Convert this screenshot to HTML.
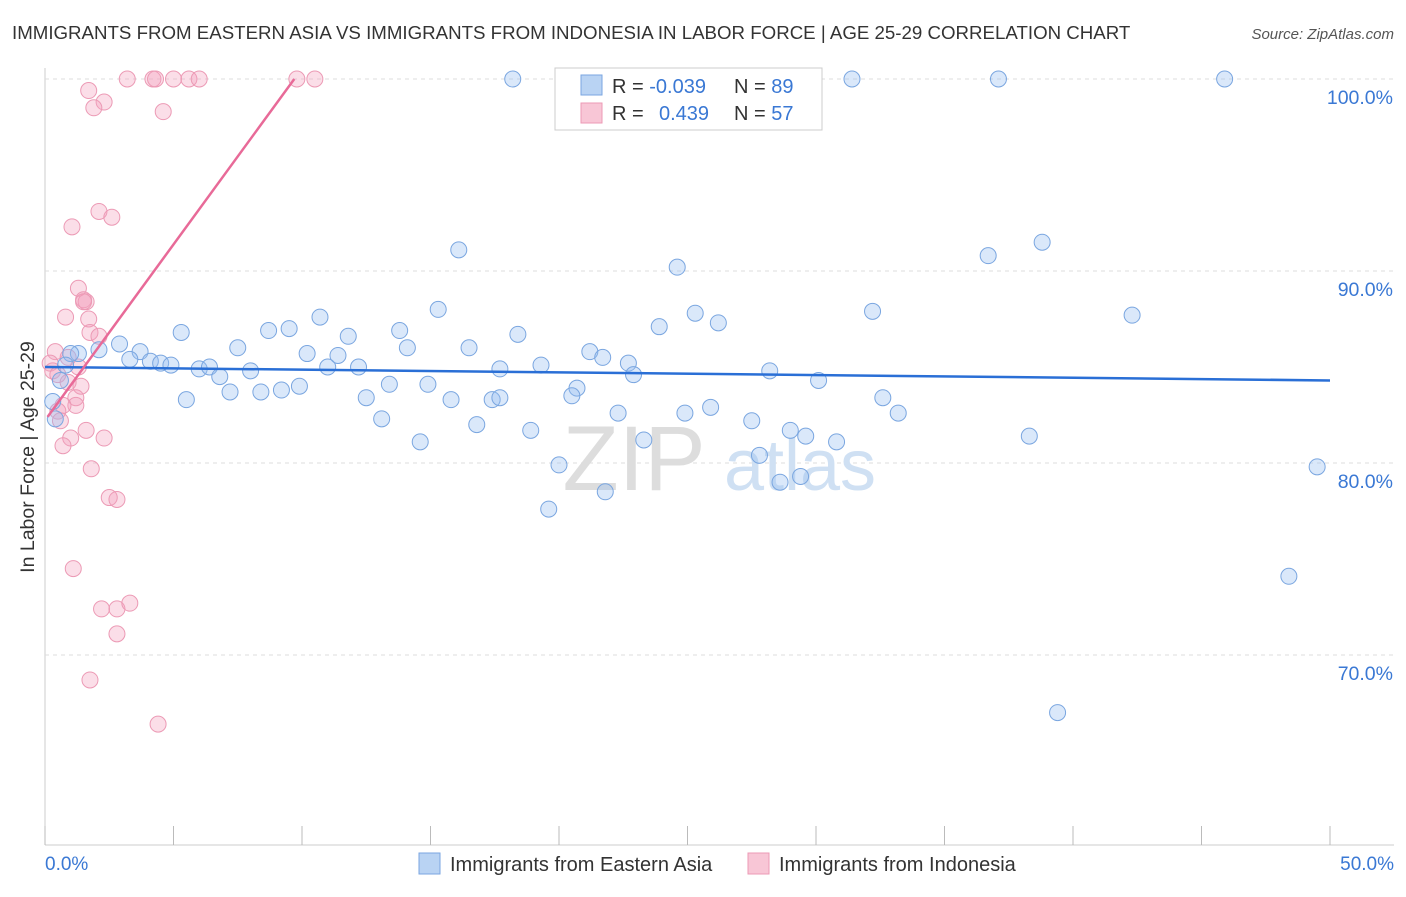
<!DOCTYPE html>
<html><head><meta charset="utf-8">
<style>
body{margin:0;background:#fff;font-family:"Liberation Sans",sans-serif;}
svg text{font-family:"Liberation Sans",sans-serif;}
</style></head>
<body>
<svg id="chart" width="1406" height="892" xmlns="http://www.w3.org/2000/svg">
<text x="12" y="39" font-size="18.7" fill="#333">IMMIGRANTS FROM EASTERN ASIA VS IMMIGRANTS FROM INDONESIA IN LABOR FORCE | AGE 25-29 CORRELATION CHART</text>
<text x="1394" y="39" font-size="15" fill="#555" font-style="italic" text-anchor="end">Source: ZipAtlas.com</text>
<g id="grid"></g>
<g>
<text x="634" y="490" font-size="92" fill="#ddd" font-family="Liberation Serif" text-anchor="middle">ZIP</text>
<text x="800" y="490" font-size="72" fill="#cfe0f3" text-anchor="middle">atlas</text>
</g>
<g id="points"></g>
<g id="trends"></g>
<text transform="translate(34,457) rotate(-90)" font-size="19.5" fill="#333" text-anchor="middle">In Labor Force | Age 25-29</text>
<text x="45" y="870" font-size="19" fill="#3a78d4">0.0%</text>
<text x="1394" y="870" font-size="19" fill="#3a78d4" text-anchor="end">50.0%</text>
<g>
<rect x="555" y="68" width="267" height="62" fill="#fff" stroke="#ccc"/>
<rect x="581" y="75" width="21" height="20" fill="#b9d3f3" stroke="#7aa6e0"/>
<rect x="581" y="103" width="21" height="20" fill="#f8c6d6" stroke="#ec9ab5"/>
<text x="612" y="93" font-size="20" fill="#333">R = <tspan fill="#3a78d4">-0.039</tspan></text>
<text x="734" y="93" font-size="20" fill="#333">N = <tspan fill="#3a78d4">89</tspan></text>
<text x="612" y="120" font-size="20" fill="#333">R = <tspan fill="#3a78d4" x="659">0.439</tspan></text>
<text x="734" y="120" font-size="20" fill="#333">N = <tspan fill="#3a78d4">57</tspan></text>
</g>
<g>
<rect x="419" y="853" width="21" height="21" fill="#b9d3f3" stroke="#7aa6e0"/>
<text x="450" y="871" font-size="20" fill="#333">Immigrants from Eastern Asia</text>
<rect x="748" y="853" width="21" height="21" fill="#f8c6d6" stroke="#ec9ab5"/>
<text x="779" y="871" font-size="20" fill="#333">Immigrants from Indonesia</text>
</g>
</svg>
<script>
const yTicks=[100,90,80,70];
const yTickLabels=["100.0%","90.0%","80.0%","70.0%"];
const xTicks=[0,5,10,15,20,25,30,35,40,45,50];
const blueX=[18.2,31.4,37.1,45.9,16.1,24.6,36.7,38.8,42.3,32.2,15.3,25.3,26.2,23.9,10.7,9.5,8.7,5.3,11.8,13.8,18.4,7.5,14.1,16.5,21.2,21.7,10.2,11.4,11.0,12.2,19.3,22.7,22.9,2.9,3.7,3.3,4.1,4.5,4.9,2.1,1.3,1.0,6.0,6.4,6.8,8.0,28.2,30.1,13.4,14.9,17.7,20.7,20.5,9.9,9.2,8.4,7.2,5.5,12.5,15.8,17.4,17.7,32.6,33.2,22.3,24.9,25.9,13.1,16.8,18.9,27.5,29.0,29.6,30.8,23.3,14.6,38.3,27.8,20.0,29.4,28.6,21.8,19.6,49.5,48.4,39.4,0.3,0.4,0.6,0.8];
const blueY=[100,100,100,100,91.1,90.2,90.8,91.5,87.7,87.9,88.0,87.8,87.3,87.1,87.6,87.0,86.9,86.8,86.6,86.9,86.7,86.0,86.0,86.0,85.8,85.5,85.7,85.6,85.0,85.0,85.1,85.2,84.6,86.2,85.8,85.4,85.3,85.2,85.1,85.9,85.7,85.7,84.9,85.0,84.5,84.8,84.8,84.3,84.1,84.1,84.9,83.9,83.5,84.0,83.8,83.7,83.7,83.3,83.4,83.3,83.3,83.4,83.4,82.6,82.6,82.6,82.9,82.3,82.0,81.7,82.2,81.7,81.4,81.1,81.2,81.1,81.4,80.4,79.9,79.3,79.0,78.5,77.6,79.8,74.1,67.0,83.2,82.3,84.3,85.1];
const pinkX=[3.2,4.2,4.3,5.0,5.6,6.0,9.8,10.5,1.7,2.3,1.9,4.6,2.1,2.6,1.05,1.3,1.5,1.6,1.5,0.8,1.7,1.75,2.1,0.4,0.9,0.2,0.3,0.5,1.3,1.4,0.9,1.2,1.2,0.7,0.5,0.6,1.6,1.0,0.7,2.3,1.8,2.5,2.8,1.1,2.2,2.8,3.3,2.8,1.75,4.4];
const pinkY=[100,100,100,100,100,100,100,100,99.4,98.8,98.5,98.3,93.1,92.8,92.3,89.1,88.5,88.4,88.4,87.6,87.5,86.8,86.6,85.8,85.5,85.2,84.8,84.6,85.0,84.0,84.2,83.4,83.0,83.0,82.7,82.2,81.7,81.3,80.9,81.3,79.7,78.2,78.1,74.5,72.4,72.4,72.7,71.1,68.7,66.4];
const blueTrendX=[0,50], blueTrendY=[85.0,84.3];
const pinkTrendX=[0.1,9.7], pinkTrendY=[82.4,100];

const NS="http://www.w3.org/2000/svg";
const xS=v=>45+v*25.7;
const yS=v=>79+(100-v)*19.2;
function mk(t,a,p){const e=document.createElementNS(NS,t);for(const k in a)e.setAttribute(k,a[k]);p.appendChild(e);return e;}
const grid=document.getElementById('grid');
const ax=mk('line',{x1:45,y1:68,x2:45,y2:845,stroke:'#ccc'},grid);


const bx=mk('line',{x1:45,y1:845,x2:1394,y2:845,stroke:'#ccc'},grid);


yTicks.forEach((v,i)=>{
 const g=mk('line',{x1:45,y1:yS(v),x2:1394,y2:yS(v),stroke:'#ddd','stroke-dasharray':'4,4'},grid);
 
 
 const t=mk('text',{x:1393,y:yS(v)+25,'font-size':19.5,fill:'#3a78d4','text-anchor':'end'},grid);
 t.textContent=yTickLabels[i];
 
 
});
xTicks.forEach(v=>{
 const l=mk('line',{x1:xS(v),y1:826,x2:xS(v),y2:845,stroke:'#bbb'},grid);
 
 
});
const pts=document.getElementById('points');
pinkX.forEach((x,i)=>{
 const c=mk('circle',{cx:xS(x),cy:yS(pinkY[i]),r:8,fill:'rgba(244,160,190,0.35)',stroke:'#ec9ab5','stroke-width':1},pts);
 
 
});
blueX.forEach((x,i)=>{
 const c=mk('circle',{cx:xS(x),cy:yS(blueY[i]),r:8,fill:'rgba(150,190,240,0.35)',stroke:'#7aa6e0','stroke-width':1},pts);
 
 
});
const tr=document.getElementById('trends');
const bl=mk('line',{x1:xS(blueTrendX[0]),y1:yS(blueTrendY[0]),x2:xS(blueTrendX[1]),y2:yS(blueTrendY[1]),stroke:'#2a6fd6','stroke-width':2.5},tr);


const pl=mk('line',{x1:xS(pinkTrendX[0]),y1:yS(pinkTrendY[0]),x2:xS(pinkTrendX[1]),y2:yS(pinkTrendY[1]),stroke:'#e86a98','stroke-width':2.5},tr);


</script>
</body></html>
